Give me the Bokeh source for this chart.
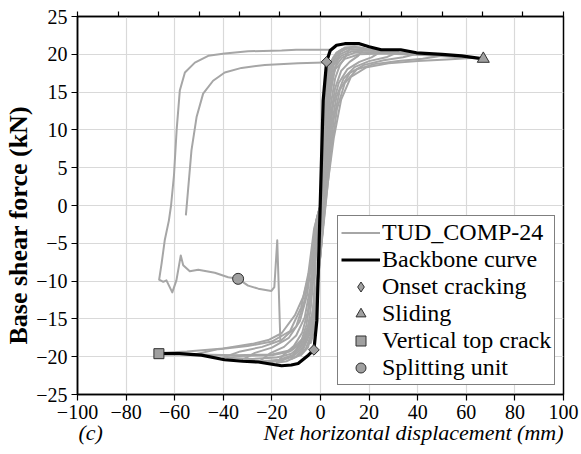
from bokeh.plotting import figure
from bokeh.layouts import column
from bokeh.models import (LinearAxis, FixedTicker, Legend, LegendItem, Label, Range1d,
                          CustomJSTickFormatter, Title)
from bokeh.embed import file_html
from bokeh.resources import INLINE

FONT = "Liberation Serif"

# ---- axes / ticks ----
x_ticks = [-100, -80, -60, -40, -20, 0, 20, 40, 60, 80, 100]
y_ticks = [-25, -20, -15, -10, -5, 0, 5, 10, 15, 20, 25]
top_ticks = [-100, -83.333, -66.667, -50, -33.333, -16.667, 0,
             16.667, 33.333, 50, 66.667, 83.333, 100]
x_title = "Net horizontal displacement (mm)"
y_title = "Base shear force (kN)"
panel_tag = "(c)"

# ---- TUD_COMP-24 hysteresis cycles (mm, kN) ----
loops_x = [
    [0, 0.6, 1.2, 2.0, 3.0, 4.0, 3.5, 2.8, 2.0, 1.0, 0.0, -1.0, -2.0, -3.0, -4.0, -3.5, -2.8, -2.0, -1.0, 0],
    [0, 0.7, 1.4, 2.2, 3.5, 5.5, 8.0, 7.0, 5.5, 4.0, 2.8, 1.5, 0.3, -0.8, -2.0, -3.3, -5.2, -8.0, -7.0, -5.5, -4.0, -2.6, -1.3, 0],
    [0, 0.8, 1.6, 2.5, 4.0, 6.5, 9.0, 12.0, 10.5, 8.0, 6.0, 4.3, 3.0, 1.8, 0.5, -0.8, -2.2, -3.8, -6.0, -9.0, -12.0, -10.5, -8.0, -5.8, -4.2, -2.8, -1.4, 0],
    [0, 0.9, 1.8, 2.8, 4.3, 7, 10, 14, 18, 15.5, 12, 8.5, 6.0, 4.5, 3.2, 2.0, 0.7, -0.7, -2.3, -4.2, -6.8, -10, -14, -18, -15, -11, -7.5, -5.2, -3.6, -2.2, -1, 0],
    [0, 1.0, 2.0, 3.0, 4.8, 7.5, 11, 16, 20, 25, 21, 16, 11, 7.5, 5.3, 3.8, 2.5, 1.0, -0.5, -2.2, -4.3, -7, -11, -16, -20, -25, -21, -15, -10, -6.5, -4.3, -2.8, -1.4, 0],
    [0, 1.0, 2.0, 3.2, 5.0, 8, 12, 18, 25, 32, 27, 20, 14, 9.5, 6.5, 4.6, 3.0, 1.3, -0.3, -2.0, -4.2, -7.2, -11.5, -17, -24, -32, -27, -20, -13, -8.5, -5.5, -3.5, -1.8, 0],
    [0, 1.1, 2.2, 3.4, 5.3, 8.5, 13, 20, 30, 40, 34, 26, 18, 12, 8, 5.5, 3.6, 1.8, 0, -1.8, -4, -7.2, -12, -18, -28, -40, -33, -24, -16, -10, -6.5, -4, -2, 0],
    [0, 1.2, 2.4, 3.7, 5.7, 9, 14, 22, 35, 50, 42, 32, 22, 15, 10, 6.8, 4.5, 2.4, 0.3, -1.7, -4, -7.5, -12.5, -20, -33, -52, -42, -30, -20, -12.5, -8, -5, -2.6, 0],
    [0, 1.3, 2.6, 4, 6, 10, 16, 26, 42, 62, 52, 40, 28, 19, 12.5, 8.5, 5.5, 3, 0.8, -1.2, -3.5, -7, -12, -20, -35, -50, -66, -55, -40, -28, -21.5, -16, -10.5, -7, -5, -3.2, -1.5, 0],
    [4, -10, -16, -29.8, -39.4, -46.2, -51.7, -55.8, -57.9, -59.2, -60.3, -61.5, -62.4, -64.1, -65.4, -66.4, -64.7, -63.4, -61, -59.3, -57.5, -56.5, -53.8, -50.3, -43.5, -38, -33.9, -29.8, -25.6, -20.2, -19, -17.8, -17.2, -16.5],
    [1.5, -9.2, -22.9, -32.5, -39.4, -44.2, -48.3, -51, -53.1, -55.4],
]
loops_y = [
    [0, 7, 12.5, 16, 17.8, 18.5, 16.5, 13, 8, 2, -4, -10, -14.5, -17, -18.2, -16, -12.5, -7.5, -2, 0],
    [0, 7, 12.5, 16, 18.5, 19.7, 20.2, 19.2, 17.5, 14.5, 10, 4, -2, -8, -13.5, -16.8, -18.8, -19.8, -18.8, -17, -13.5, -8.5, -3, 0],
    [0, 7, 12.5, 16, 18.8, 20.2, 20.7, 20.8, 19.8, 18.6, 16.8, 13.5, 9, 3, -3, -9, -14, -17, -18.9, -19.9, -20.3, -19.4, -18.0, -15.8, -12.5, -8, -2.5, 0],
    [0, 7, 12.5, 16, 18.8, 20.3, 20.9, 21.0, 20.8, 19.8, 19.0, 17.8, 15.5, 12.5, 8, 2.5, -3.5, -9, -13.8, -16.8, -18.8, -20.0, -20.6, -20.8, -19.7, -18.6, -16.8, -14, -10, -5, -1, 0],
    [0, 7, 12.5, 16, 18.8, 20.2, 20.8, 20.9, 20.6, 20.4, 19.6, 19.0, 18.0, 16.2, 13.5, 9.5, 4, -2, -8, -13.2, -16.5, -18.7, -19.9, -20.5, -20.7, -20.6, -19.6, -18.7, -17.2, -14.8, -11, -6, -1.5, 0],
    [0, 6.5, 12, 15.8, 18.6, 20.0, 20.6, 20.7, 20.5, 20.3, 19.6, 19.1, 18.3, 16.8, 14.3, 10.5, 5, -1.5, -7.5, -12.8, -16.2, -18.5, -19.8, -20.4, -20.6, -20.4, -19.5, -18.8, -17.5, -15.3, -11.8, -7, -2, 0],
    [0, 6.5, 12, 15.8, 18.5, 19.8, 20.4, 20.5, 20.3, 20.1, 19.6, 19.2, 18.6, 17.5, 15.3, 11.5, 6, 0, -6.5, -12, -15.8, -18.3, -19.6, -20.1, -20.3, -20.1, -19.3, -18.7, -17.8, -16, -12.5, -8, -2.5, 0],
    [0, 6, 11.5, 15.5, 18.2, 19.6, 20.2, 20.3, 20.1, 19.8, 19.4, 19.1, 18.7, 18.0, 16.2, 12.8, 7.5, 1, -5.5, -11.3, -15.5, -18.1, -19.3, -19.8, -19.9, -19.7, -19.0, -18.6, -18.0, -16.6, -13.5, -9, -3, 0],
    [0, 6, 11.5, 15.3, 18, 19.4, 20, 20.1, 19.9, 19.5, 19.3, 19.1, 18.8, 18.3, 17, 14, 9, 3, -3.5, -9.5, -14.5, -17.5, -19.1, -19.7, -19.8, -19.7, -19.5, -19.3, -18.9, -18.3, -17.8, -16.9, -14.5, -12, -9.5, -6, -2, 0],
    [20.6, 20.6, 20.5, 20.4, 20.1, 19.8, 18.9, 17.6, 15.2, 10, 4, 0, -2.0, -4.6, -7.7, -9.8, -10.1, -9.9, -11.5, -9.9, -6.6, -7.9, -8.7, -8.5, -8.9, -9.5, -9.7, -10.6, -11.0, -11.3, -10.8, -4.6, -10.8, -18.1],
    [18.9, 18.8, 18.6, 18.2, 17.6, 16.5, 14.8, 11.7, 7.3, -1.3],
]

# ---- backbone ----
bb_x = [-66.5, -58, -49, -39.5, -32, -25.6, -20, -16, -12, -9.2, -5, -2.7, -1.5, -0.3, 1.1, 2.5, 4, 6.6, 10, 16, 20, 25, 33, 39.5, 50, 58, 67]
bb_y = [-19.6, -19.6, -19.8, -20.4, -20.6, -20.7, -21.0, -21.2, -21.1, -20.9, -19.8, -19.1, -15.2, -2, 13.9, 19.0, 20.5, 21.2, 21.4, 21.4, 21.0, 20.6, 20.6, 20.2, 20.0, 19.8, 19.4]

# ---- damage states ----
crack_x = [2.5, -2.7]
crack_y = [19.0, -19.1]
slide_x = [67]
slide_y = [19.4]
vcrack_x = [-66.5]
vcrack_y = [-19.6]
split_x = [-33.9]
split_y = [-9.7]

GRAY = "#a6a6a6"
MARK = "#a0a0a0"
EDGE = "#303030"

p = figure(frame_width=486, frame_height=378,
           x_range=Range1d(-100, 100), y_range=Range1d(-25, 25),
           output_backend="svg", toolbar_location=None,
           min_border_left=76, min_border_right=19, min_border_top=16, min_border_bottom=0,
           background_fill_color="white", border_fill_color="white")

p.outline_line_color = "black"
p.outline_line_width = 1.5
p.outline_line_alpha = 1

for ax in (p.xaxis[0], p.yaxis[0]):
    ax.major_label_text_font = FONT
    ax.major_label_text_font_size = "20px"
    ax.major_label_text_color = "black"
    ax.axis_line_color = "black"
    ax.axis_line_width = 1.5
    ax.major_tick_line_color = "black"
    ax.major_tick_line_width = 1.2
    ax.major_tick_in = 0
    ax.major_tick_out = 6
    ax.minor_tick_line_color = None

p.xaxis.ticker = FixedTicker(ticks=x_ticks)
p.yaxis.ticker = FixedTicker(ticks=y_ticks)
p.xaxis.major_label_standoff = 4
p.yaxis.major_label_standoff = 4

p.add_layout(Title(text=y_title, text_font=FONT, text_font_style="bold",
                   text_font_size="26px", text_color="black", align="left",
                   offset=50, standoff=2), "left")

p.xgrid.ticker = FixedTicker(ticks=x_ticks)
p.ygrid.ticker = FixedTicker(ticks=y_ticks)
p.grid.grid_line_color = "#d9d9d9"
p.grid.grid_line_width = 1.2

top = LinearAxis(ticker=FixedTicker(ticks=top_ticks),
                 formatter=CustomJSTickFormatter(code="return ''"),
                 major_label_standoff=0, major_label_text_font_size="1px",
                 major_tick_in=0, major_tick_out=5, major_tick_line_color="black",
                 major_tick_line_width=1.2, minor_tick_line_color=None,
                 axis_line_color="black", axis_line_width=1.5)
p.add_layout(top, "above")

r_gray = p.multi_line(xs=loops_x, ys=loops_y, line_color=GRAY, line_width=2, line_join="round")
r_bb = p.line(bb_x, bb_y, line_color="black", line_width=3.2, line_join="round")
# legend key for the onset-cracking points (covered by the rotated squares below)
r_crack_key = p.scatter(crack_x, crack_y, marker="diamond", size=10,
                        fill_color=MARK, line_color=EDGE, line_width=1)
r_crack = p.scatter(crack_x, crack_y, marker="square", angle=0.7854, size=7.5,
                    fill_color=MARK, line_color=EDGE, line_width=1)
r_slide = p.scatter(slide_x, slide_y, marker="triangle", size=12,
                    fill_color=MARK, line_color=EDGE, line_width=1)
r_vc = p.scatter(vcrack_x, vcrack_y, marker="square", size=10,
                 fill_color=MARK, line_color=EDGE, line_width=1)
r_split = p.scatter(split_x, split_y, marker="circle", size=11,
                    fill_color=MARK, line_color=EDGE, line_width=1)

legend = Legend(items=[
    LegendItem(label="TUD_COMP-24", renderers=[r_gray]),
    LegendItem(label="Backbone curve", renderers=[r_bb]),
    LegendItem(label="Onset cracking", renderers=[r_crack_key]),
    LegendItem(label="Sliding", renderers=[r_slide]),
    LegendItem(label="Vertical top crack", renderers=[r_vc]),
    LegendItem(label="Splitting unit", renderers=[r_split]),
], location=(260, 9))
legend.label_text_font = FONT
legend.label_text_font_size = "24px"
legend.label_text_color = "black"
legend.glyph_width = 39
legend.glyph_height = 25
legend.label_height = 25
legend.label_standoff = 2
legend.padding = 3
legend.spacing = 0
legend.margin = 0
legend.border_line_color = "black"
legend.border_line_width = 1
legend.background_fill_color = "white"
legend.background_fill_alpha = 1
p.add_layout(legend)

# strip below the plot holding the x-axis title and the panel tag
s = figure(frame_width=486, frame_height=30, x_range=p.x_range, y_range=Range1d(0, 1),
           output_backend="svg", toolbar_location=None,
           min_border_left=76, min_border_right=19, min_border_top=0, min_border_bottom=0,
           background_fill_color="white", border_fill_color="white")
s.axis.visible = False
s.grid.visible = False
s.outline_line_color = None
s.add_layout(Label(x=100, y=1, y_offset=-11, text=x_title, text_font=FONT, text_font_style="italic",
                   text_font_size="22px", text_align="right", text_baseline="middle",
                   text_color="black"))
s.add_layout(Label(x=-100, y=1, y_offset=-11, text=panel_tag, text_font=FONT, text_font_style="italic",
                   text_font_size="22px", text_align="left", text_baseline="middle",
                   x_offset=1, text_color="black"))

open("out.html", "w").write(file_html(column(p, s, spacing=0), INLINE))
